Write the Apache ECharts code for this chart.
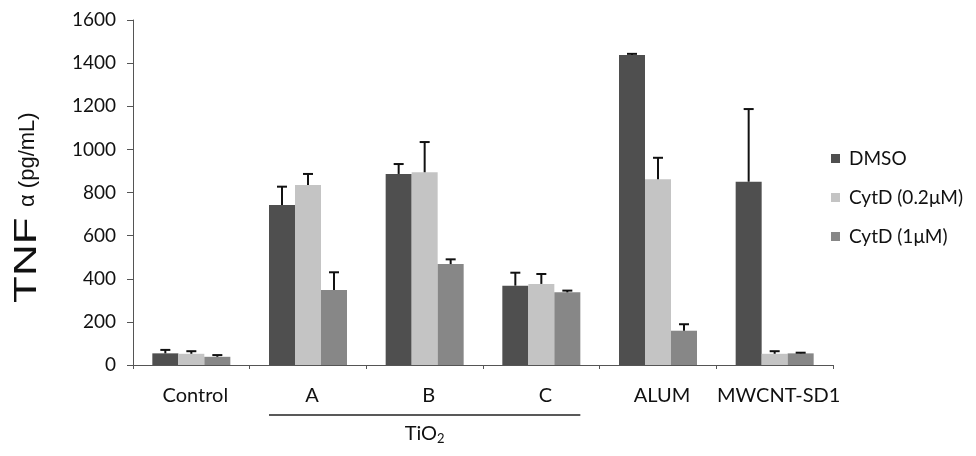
<!DOCTYPE html>
<html>
<head>
<meta charset="utf-8">
<script src="https://cdn.jsdelivr.net/npm/echarts@6/dist/echarts.min.js"></script>
<style>
  html, body { margin: 0; padding: 0; background: #fff; }
  #chart { width: 976px; height: 456px; }
</style>
</head>
<body>
<div id="chart"></div>
<script>
  // values
  const categories = ['Control', 'A', 'B', 'C', 'ALUM', 'MWCNT-SD1']
  const seriesNames = ['DMSO', 'CytD (0.2\u03bcM)', 'CytD (1\u03bcM)']
  const dmso = [54, 742, 886, 368, 1438, 850]
  const dmsoErr = [16, 85, 46, 60, 5, 337]
  const cytdLow = [52, 835, 894, 376, 861, 52]
  const cytdLowErr = [12, 51, 140, 46, 100, 12]
  const cytdHigh = [38, 348, 468, 337, 159, 54]
  const cytdHighErr = [8, 82, 22, 8, 30, 3]
  const yTicks = { min: 0, max: 1600, interval: 200 }

  const colors = ['#4f4f4f', '#c4c4c4', '#878787']
  const values = [dmso, cytdLow, cytdHigh]
  const errs = [dmsoErr, cytdLowErr, cytdHighErr]
  const barW = 26
  const font = 'Lato'

  const chart = echarts.init(document.getElementById('chart'))

  function errorSeries (k) {
    return {
      type: 'custom',
      name: seriesNames[k] + ' err',
      z: 5,
      silent: true,
      data: values[k].map(function (v, i) { return [i, v, errs[k][i]] }),
      renderItem: function (params, api) {
        const top = api.coord([api.value(0), api.value(1) + api.value(2)])
        const base = api.coord([api.value(0), api.value(1)])
        const x = base[0] + (k - 1) * barW
        const style = { stroke: '#111', lineWidth: 2 }
        return {
          type: 'group',
          children: [
            { type: 'line', shape: { x1: x, y1: base[1], x2: x, y2: top[1] }, style: style },
            { type: 'line', shape: { x1: x - 5, y1: top[1], x2: x + 5, y2: top[1] }, style: style }
          ]
        }
      }
    }
  }

  let series = []
  for (let k = 0; k < 3; k++) {
    series.push({
      name: seriesNames[k],
      type: 'bar',
      barWidth: barW,
      barGap: '0%',
      data: values[k],
      itemStyle: { color: colors[k] }
    })
  }
  for (let k = 0; k < 3; k++) series.push(errorSeries(k))

  chart.setOption({
    animation: false,
    backgroundColor: '#fff',
    textStyle: { fontFamily: font },
    grid: { left: 133, right: 143, top: 20, bottom: 91 },
    legend: {
      data: seriesNames,
      orient: 'vertical',
      left: 826,
      top: 144,
      itemWidth: 9,
      itemHeight: 9,
      itemGap: 20,
      icon: 'rect',
      textStyle: { fontFamily: font, fontSize: 19, color: '#111', padding: [0, 0, 0, 4] }
    },
    xAxis: {
      type: 'category',
      data: categories,
      axisLine: { lineStyle: { color: '#555', width: 1 } },
      axisTick: { show: true, length: 4, lineStyle: { color: '#555' } },
      axisLabel: {
        interval: 0,
        color: '#111',
        fontSize: 20,
        margin: 21,
        fontFamily: font,
        padding: [0, 0, 0, 8]
      }
    },
    yAxis: {
      type: 'value',
      min: yTicks.min,
      max: yTicks.max,
      interval: yTicks.interval,
      splitLine: { show: false },
      axisLine: { show: true, lineStyle: { color: '#555' } },
      axisTick: { show: true, length: 6, lineStyle: { color: '#555' } },
      axisLabel: {
        color: '#111',
        fontSize: 19,
        margin: 17,
        fontFamily: font,
        formatter: function (v) { return String(v) }
      }
    },
    series: series
  })

  // TiO2 bracket under A..C
  const pA = chart.convertToPixel({ xAxisIndex: 0 }, 'A')
  const pC = chart.convertToPixel({ xAxisIndex: 0 }, 'C')
  const half = 1.5 * barW
  chart.setOption({
    graphic: [
      {
        type: 'line',
        shape: { x1: pA - half, y1: 415, x2: pC + half, y2: 415 },
        style: { stroke: '#222', lineWidth: 1.5 }
      },
      {
        type: 'text',
        x: (pA + pC) / 2,
        y: 434,
        style: {
          text: '{t|TiO}{s|2}',
          align: 'center',
          verticalAlign: 'middle',
          rich: {
            t: { fontSize: 20, fontFamily: font, fill: '#111' },
            s: { fontSize: 13, fontFamily: font, fill: '#111', padding: [9, 0, 0, 0] }
          }
        }
      },
      // y-axis title, "TNF" drawn wide as in the figure
      {
        type: 'text',
        x: 27,
        y: 303,
        rotation: Math.PI / 2,
        scaleX: 1.42,
        style: {
          text: 'TNF',
          align: 'left',
          verticalAlign: 'middle',
          fontSize: 31,
          fontFamily: 'Liberation Sans',
          fill: '#111'
        }
      },
      {
        type: 'text',
        x: 28,
        y: 207,
        rotation: Math.PI / 2,
        style: {
          text: '\u03b1 (pg/mL)',
          align: 'left',
          verticalAlign: 'middle',
          fontSize: 22,
          fontFamily: 'Liberation Sans',
          fill: '#111'
        }
      }
    ]
  })
</script>
</body>
</html>
